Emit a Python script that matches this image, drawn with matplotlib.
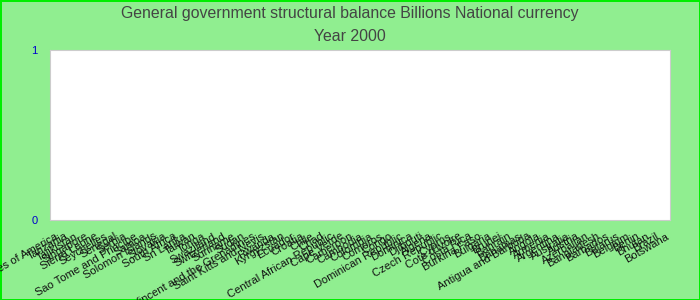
import matplotlib
matplotlib.use("Agg")
import matplotlib.pyplot as plt

countries = [
    "United States of America", "Tanzania", "Tajikistan", "Singapore", "Sierra Leone",
    "Seychelles", "Senegal", "Serbia", "Sao Tome and Principe", "Samoa",
    "Solomon Islands", "Slovakia", "South Africa", "Sri Lanka", "Taiwan",
    "Tonga", "Swaziland", "Switzerland", "Suriname", "Sudan",
    "Saint Vincent and the Grenadines", "Saint Kitts and Nevis", "Rwanda", "Kyrgyzstan", "Ecuador",
    "Croatia", "Chile", "Chad", "Central African Republic", "Cape Verde",
    "Cameroon", "Cambodia", "Colombia", "Comoros", "Congo",
    "Dominican Republic", "Dominica", "Djibouti", "Algeria", "Czech Republic",
    "Cyprus", "Cote d'Ivoire", "Costa Rica", "Burkina Faso", "Bulgaria",
    "Brunei", "Bahrain", "Bahamas", "Antigua and Barbuda", "Angola",
    "Armenia", "Argentina", "Australia", "Austria", "Azerbaijan",
    "Bangladesh", "Barbados", "Belarus", "Belgium", "Benin",
    "Bhutan", "Brazil", "Botswana",
]
# no data reported for 2000
values = [0] * len(countries)
yticks = [0, 1]

fig = plt.figure(figsize=(7, 3), dpi=100)
fig.patch.set_facecolor("#90ee90")
fig.patch.set_edgecolor("#00ee00")
fig.patch.set_linewidth(2)

ax = fig.add_axes([50 / 700, 80 / 300, 620 / 700, 170 / 300])
ax.set_facecolor("white")
ax.bar(range(len(countries)), values, color="#4572a7")
ax.set_xlim(-0.5, len(countries) - 0.5)
ax.set_ylim(0, 1)
ax.set_yticks(yticks)
ax.set_yticklabels([str(v) for v in yticks], color="#0000cc", fontsize=8,
                   family="Liberation Sans")
ax.set_xticks(range(len(countries)))
ax.set_xticklabels(countries, rotation=30, ha="right", rotation_mode="anchor",
                   fontsize=8, family="Liberation Sans", color="#111111")
ax.tick_params(axis="both", length=0, pad=8)
ax.tick_params(axis="y", pad=9)
for s in ax.spines.values():
    s.set_color("#cccccc")

fig.text(0.5, 0.955, "General government structural balance Billions National currency",
         ha="center", va="center", fontsize=11.4, color="#444444", family="Liberation Sans")
fig.text(0.5, 0.877, "Year 2000", ha="center", va="center", fontsize=11.4,
         color="#444444", family="Liberation Sans")

fig.savefig("out.png", dpi=100, facecolor=fig.get_facecolor(), edgecolor=fig.get_edgecolor())
